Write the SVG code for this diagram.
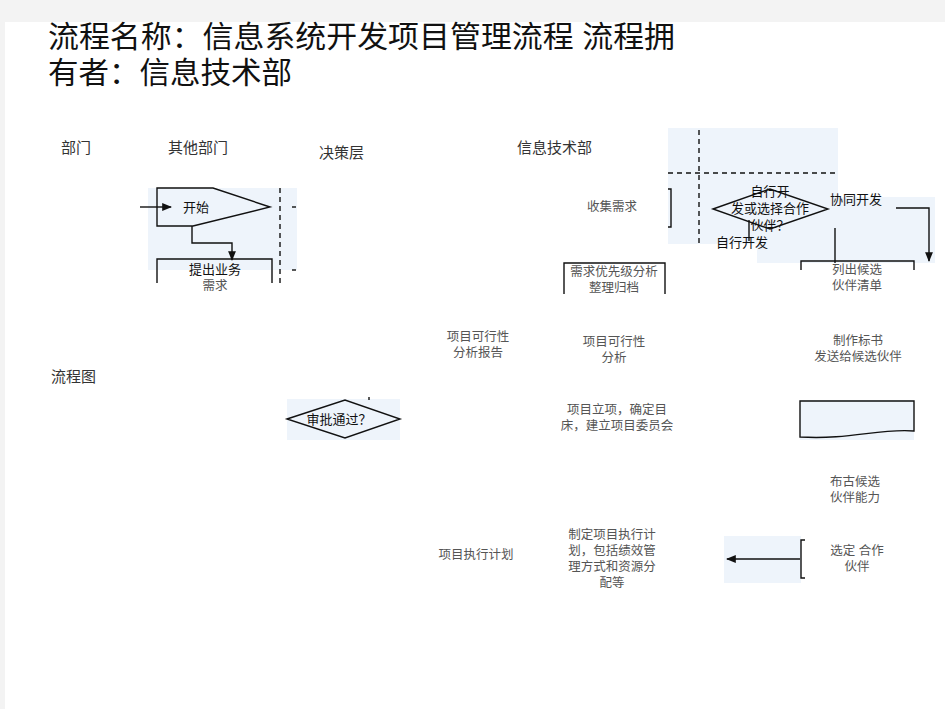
<svg xmlns="http://www.w3.org/2000/svg" width="945" height="709" viewBox="0 0 945 709">
<defs>
<style>
.t{font-family:"Liberation Sans","Noto Sans CJK SC",sans-serif;fill:#555;font-size:12.5px;text-anchor:middle}
.h{font-family:"Liberation Sans","Noto Sans CJK SC",sans-serif;fill:#333;font-size:15px}
.title{font-family:"Liberation Sans","Noto Sans CJK SC",sans-serif;fill:#111;font-size:30px}
.k{font-family:"Liberation Sans","Noto Sans CJK SC",sans-serif;fill:#111;font-size:13px;text-anchor:middle}
.bg{fill:#eef4fb}
.ln{fill:none;stroke:#111;stroke-width:1.4}
.dash{fill:none;stroke:#111;stroke-width:1.4;stroke-dasharray:5 4}
</style>
<marker id="ah" viewBox="0 0 10 10" refX="9" refY="5" markerWidth="7" markerHeight="7" orient="auto-start-reverse">
<path d="M0,1 L10,5 L0,9 z" fill="#111"/>
</marker>
</defs>
<rect width="945" height="709" fill="#ffffff"/>
<rect x="0" y="0" width="945" height="22" fill="#f3f3f3"/>
<rect x="0" y="0" width="5" height="709" fill="#f3f3f3"/>

<g id="title">
<text class="title" x="48" y="47" textLength="627" lengthAdjust="spacingAndGlyphs">流程名称：信息系统开发项目管理流程 流程拥</text>
<text class="title" x="48" y="83" textLength="244" lengthAdjust="spacingAndGlyphs">有者：信息技术部</text>
</g>

<g id="headers">
<text class="h" x="61" y="153">部门</text>
<text class="h" x="168" y="153">其他部门</text>
<text class="h" x="319" y="158">决策层</text>
<text class="h" x="517" y="153">信息技术部</text>
<text class="h" x="51" y="382">流程图</text>
</g>

<g id="backgrounds">
<rect class="bg" x="148" y="188" width="149" height="82"/>
<rect class="bg" x="668" y="128" width="170" height="116"/>
<rect class="bg" x="757" y="197" width="178" height="66"/>
<rect class="bg" x="287" y="399" width="113" height="41"/>
<rect class="bg" x="724" y="536" width="77" height="47"/>
<rect class="bg" x="800" y="400" width="114" height="40"/>
</g>

<g id="lanes">
<line class="dash" x1="280" y1="188" x2="280" y2="287"/>
<line class="ln" x1="292" y1="207" x2="296" y2="207"/>
<line class="ln" x1="292" y1="270" x2="296" y2="270"/>
<line class="dash" x1="699" y1="130" x2="699" y2="243"/>
<line class="dash" x1="668" y1="173" x2="838" y2="173"/>
</g>

<g id="start">
<path class="ln" d="M157,188 H213 L270,207 L193,226 H157 Z" fill="#eef4fb"/>
<text class="k" x="196" y="212">开始</text>
</g>

<g id="propose">
<path class="ln" d="M157,283 V259 H272 V283"/>
<text class="k" x="215" y="274">提出业务</text>
<text class="t" x="215" y="290">需求</text>
</g>

<g id="approve">
<path class="ln" d="M287,419 L345,400 L400,419 L345,438 Z" fill="#ffffff"/>
<text class="k" x="339" y="424">审批通过？</text>
</g>

<g id="collect">
<text class="t" x="612" y="211">收集需求</text>
<path class="ln" d="M668,189 H671 V227 H668"/>
</g>

<g id="choose">
<path class="ln" d="M713,209 L770,189 L828,209 L770,229 Z" fill="#ffffff"/>
<text class="k" x="770" y="196">自行开</text>
<text class="k" x="770" y="213">发或选择合作</text>
<text class="k" x="770" y="230">伙伴？</text>
</g>

<g id="selfdev">
<text class="k" x="742" y="247">自行开发</text>
</g>

<g id="codev">
<text class="k" x="856" y="204">协同开发</text>
</g>

<g id="priority">
<path class="ln" d="M564,294 V263 H665 V294"/>
<text class="t" x="614" y="276">需求优先级分析</text>
<text class="t" x="614" y="292">整理归档</text>
</g>

<g id="candidates">
<path class="ln" d="M801,270 V261 H914 V270"/>
<text class="t" x="857" y="274">列出候选</text>
<text class="t" x="857" y="290">伙伴清单</text>
</g>

<g id="report">
<text class="t" x="478" y="341">项目可行性</text>
<text class="t" x="478" y="357">分析报告</text>
</g>

<g id="feasibility">
<text class="t" x="614" y="346">项目可行性</text>
<text class="t" x="614" y="362">分析</text>
</g>

<g id="tender">
<text class="t" x="858" y="345">制作标书</text>
<text class="t" x="858" y="361">发送给候选伙伴</text>
</g>

<g id="setup">
<text class="t" x="617" y="414">项目立项，确定目</text>
<text class="t" x="617" y="430">床，建立项目委员会</text>
</g>

<g id="doc">
<path class="ln" d="M800,401 H914 V431 C880,428 850,440 800,437 Z" fill="#ffffff"/>
</g>

<g id="assess">
<text class="t" x="855" y="486">布古候选</text>
<text class="t" x="855" y="502">伙伴能力</text>
</g>

<g id="select">
<path class="ln" d="M805,540 H801 V578 H805"/>
<text class="t" x="857" y="555">选定 合作</text>
<text class="t" x="857" y="571">伙伴</text>
</g>

<g id="plan">
<text class="t" x="476" y="559">项目执行计划</text>
</g>

<g id="makeplan">
<text class="t" x="612" y="539">制定项目执行计</text>
<text class="t" x="612" y="555">划，包括绩效管</text>
<text class="t" x="612" y="571">理方式和资源分</text>
<text class="t" x="612" y="587">配等</text>
</g>

<g id="connectors">
<line class="ln" x1="140" y1="207" x2="171" y2="207" marker-end="url(#ah)"/>
<path class="ln" d="M192,226 V243 H232 V260" marker-end="url(#ah)"/>
<line class="ln" x1="749" y1="220" x2="749" y2="241"/>
<line class="ln" x1="835" y1="228" x2="835" y2="263"/>
<path class="ln" d="M896,208 H929 V261" marker-end="url(#ah)"/>
<line class="ln" x1="800" y1="559" x2="727" y2="559" marker-end="url(#ah)"/>
<line class="ln" x1="369" y1="397" x2="369" y2="400"/>
</g>
</svg>
